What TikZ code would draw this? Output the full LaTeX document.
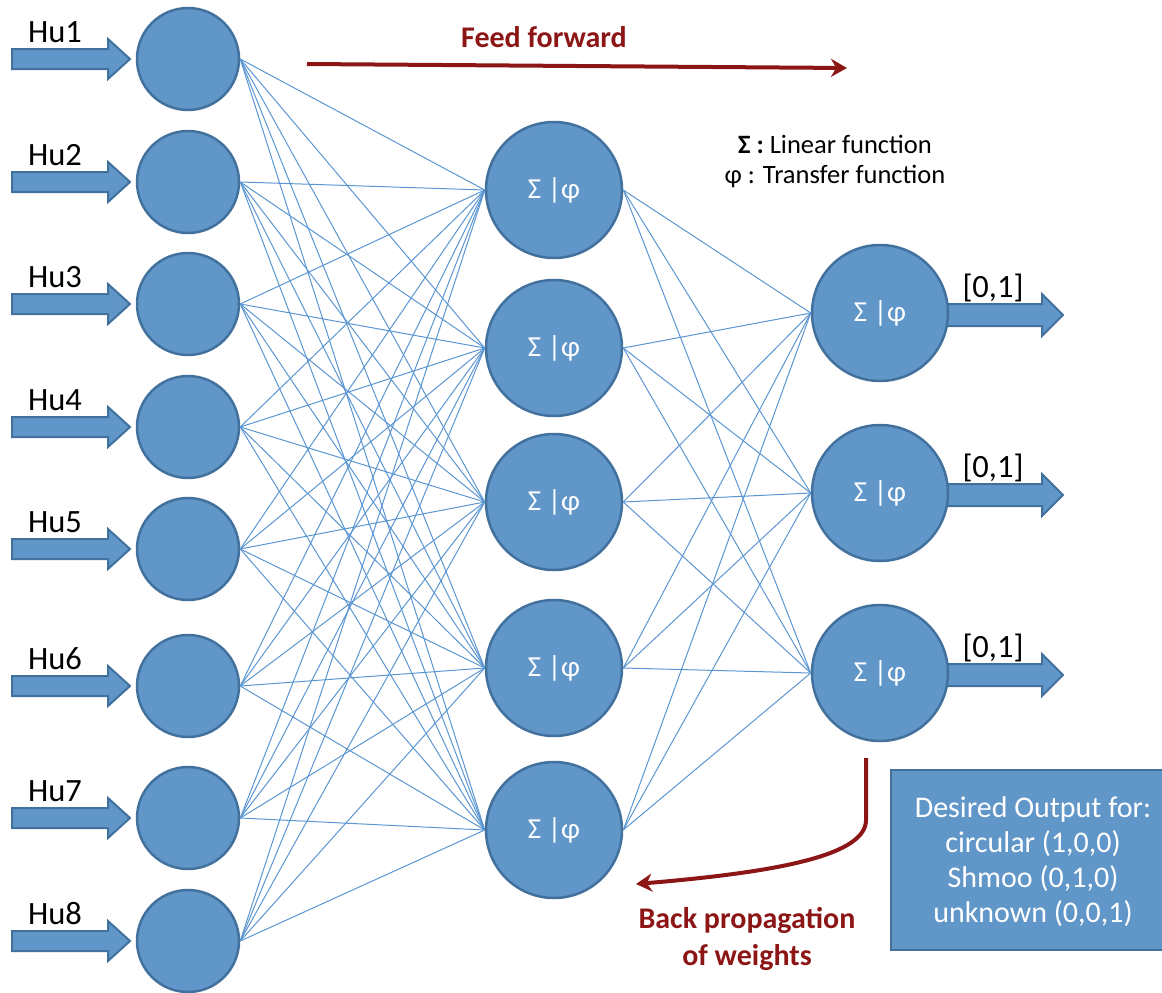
\documentclass[tikz,border=0pt]{standalone}
\usepackage{fontspec}
\setmainfont{Carlito}
\usetikzlibrary{arrows.meta}
\definecolor{nfill}{RGB}{97,150,201}
\definecolor{nline}{RGB}{65,113,156}
\definecolor{wire}{RGB}{91,150,210}
\definecolor{dred}{RGB}{140,22,22}
\tikzset{
  neuron/.style={circle,fill=nfill,draw=nline,line width=2.5pt,inner sep=0pt,text=white,
    font=\fontsize{29}{32}\selectfont},
  inneuron/.style={neuron,minimum size=102pt},
  bigneuron/.style={neuron,minimum size=136pt},
  wireline/.style={draw=wire,line width=1pt},
  fatarrow/.style={fill=nfill,draw=nline,line width=2pt,line join=miter},
  lbl/.style={font=\fontsize{32.5}{38}\selectfont,text=black,inner sep=0pt},
  redarrow/.style={draw=dred,line width=4pt,-{Stealth[length=16pt,width=18pt]}},
  redtext/.style={text=dred,font=\bfseries\fontsize{30}{37}\selectfont,align=center,inner sep=0pt}
}
\begin{document}
\begin{tikzpicture}[x=1pt,y=-1pt]
\useasboundingbox (0,0) rectangle (1162,993);
% input arrows and nodes
\foreach \i/\y in {1/59,2/182,3/304,4/427,5/549,6/686,7/818,8/941}{
  \draw[fatarrow] (12,\y-10) -- (108,\y-10) -- (108,\y-20) -- (130,\y) -- (108,\y+20) -- (108,\y+10) -- (12,\y+10) -- cycle;
  \node[lbl] (l\i) at (55,\y-27) {Hu\i};
  \node[inneuron] (i\i) at (188,\y) {};
}
% hidden
\foreach \j/\y in {1/190,2/348,3/502,4/668,5/830}{
  \node[bigneuron] (h\j) at (554,\y) {Σ |φ};
}
% output
\foreach \k/\y in {1/313,2/493,3/673}{
  \draw[fatarrow] (944,\y-9) -- (1042,\y-9) -- (1042,\y-19) -- (1063,\y+2) -- (1042,\y+23) -- (1042,\y+13) -- (944,\y+13) -- cycle;
  \node[bigneuron] (o\k) at (880,\y) {Σ |φ};
  \node[lbl] (r\k) at (993,\y-25) {[0,1]};
}
% connections
\foreach \i in {1,...,8}{
  \foreach \j in {1,...,5}{
    \draw[wireline] (i\i.east) -- (h\j.west);
  }
}
\foreach \j in {1,...,5}{
  \foreach \k in {1,2,3}{
    \draw[wireline] (h\j.east) -- (o\k.west);
  }
}
% feed forward
\coordinate (ffs) at (307,64);
\coordinate (ffe) at (847,68);
\draw[redarrow] (ffs) -- (ffe);
\node[redtext] (fft) at (544,37) {Feed forward};
% legend
\node[font=\fontsize{26.5}{30}\selectfont,align=center,inner sep=0pt] (leg) at (835,161)
  {\textbf{Σ :} Linear function\\ φ : Transfer function};
% desired output box
\node[draw=nline,fill=nfill,line width=2.5pt,minimum width=274pt,minimum height=180pt,inner sep=0pt] (box) at (1028,860) {};
\node[text=white,align=center,font=\fontsize{30}{35}\selectfont,inner sep=0pt] (boxt) at (1033,862)
  {Desired Output for:\\ circular (1,0,0)\\ Shmoo (0,1,0)\\ unknown (0,0,1)};
% back propagation
\coordinate (bps) at (866,758);
\coordinate (bpe) at (636,884);
\draw[redarrow] (bps) -- (866,820) .. controls (866,855) and (780,872) .. (bpe);
\node[redtext] (bpt) at (747,939) {Back propagation\\ of weights};
\end{tikzpicture}
\end{document}
